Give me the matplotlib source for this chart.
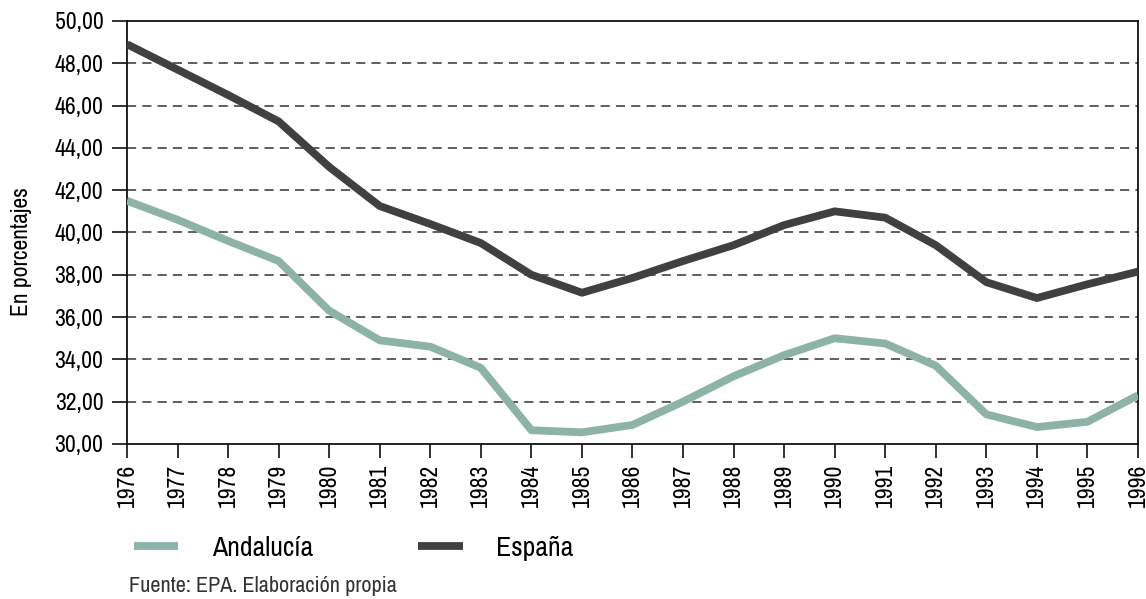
import numpy as np, matplotlib
matplotlib.use('Agg')
import matplotlib.pyplot as plt
from matplotlib import font_manager
from matplotlib.ticker import FuncFormatter

# prefer a narrow face if the machine has one
names = sorted({f.name for f in font_manager.fontManager.ttflist})
narrow = [n for n in names if 'Narrow' in n or 'Condensed' in n]
plt.rcParams['font.family'] = (narrow[:1] or ['Liberation Sans']) + ['DejaVu Sans']

years = list(range(1976, 1997))
espana = [48.9, 47.7, 46.5, 45.25, 43.1, 41.25, 40.4, 39.5, 38.0, 37.15, 37.85, 38.65,
          39.4, 40.35, 41.0, 40.7, 39.4, 37.65, 36.9, 37.55, 38.15]
andalucia = [41.5, 40.6, 39.6, 38.65, 36.3, 34.9, 34.6, 33.6, 30.65, 30.55, 30.9, 32.0,
             33.2, 34.2, 35.0, 34.75, 33.7, 31.4, 30.8, 31.05, 32.3]
yticks = np.arange(30, 51, 2)

GREEN = '#8cb3a3'; DARK = '#404040'
fig = plt.figure(figsize=(11.46, 5.99), dpi=100)
ax = fig.add_axes([0.1108, 0.2588, 0.993 - 0.1108, 0.965 - 0.2588])

ax.plot(years, andalucia, color=GREEN, lw=5.6, solid_joinstyle='round', solid_capstyle='butt', label='Andalucía', zorder=3)
ax.plot(years, espana, color=DARK, lw=5.6, solid_joinstyle='round', solid_capstyle='butt', label='España', zorder=3)

ax.set_xlim(1976, 1996)
ax.set_ylim(30, 50)
ax.set_xticks(years)
ax.set_xticklabels([str(y) for y in years], rotation=90, fontsize=17)
ax.set_yticks(yticks)
ax.yaxis.set_major_formatter(FuncFormatter(lambda v, p: ('%.2f' % v).replace('.', ',')))
ax.tick_params(axis='y', labelsize=17, length=11, width=1.3, color='#222222', pad=6)
ax.tick_params(axis='x', length=10, width=1.3, color='#222222', pad=4)
for y in yticks[1:-1]:
    ax.axhline(y, color='#333333', lw=1.1, ls=(0, (6, 4)), zorder=1)
for s in ax.spines.values():
    s.set_color('#111111'); s.set_linewidth(1.3)

fig.text(0.019, 0.58, 'En porcentajes', rotation=90, fontsize=17, va='center', ha='center')

leg = fig.legend(loc='center left', bbox_to_anchor=(0.095, 0.085), ncol=2, frameon=False,
                 fontsize=20, handlelength=1.6, handletextpad=1.2, columnspacing=3.8)
fig.text(0.113, 0.012, 'Fuente: EPA. Elaboración propia', fontsize=16, color='#333333')

fig.savefig('out.png', dpi=100, facecolor='white')
